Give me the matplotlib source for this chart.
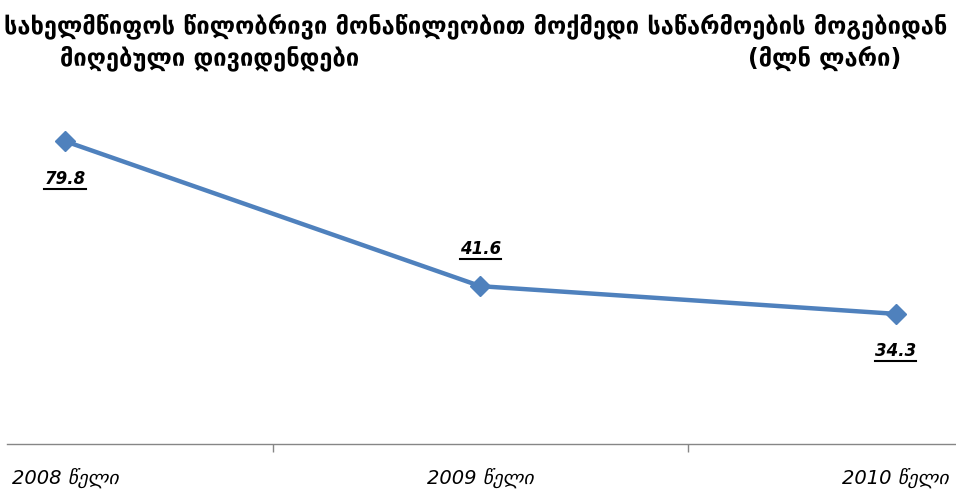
import matplotlib
matplotlib.use("Agg")
import matplotlib.pyplot as plt
from matplotlib.lines import Line2D

# დივიდენდები წლების მიხედვით (მლნ ლარი)
years = ["2008 წელი", "2009 წელი", "2010 წელი"]
dividends = [79.8, 41.6, 34.3]
# მნიშვნელობის წარწერა წერტილის ქვემოთ (-1) თუ ზემოთ (+1)
label_side = [-1, 1, -1]

title_line1 = "სახელმწიფოს წილობრივი მონაწილეობით მოქმედი საწარმოების მოგებიდან"
title_line2 = "მიღებული დივიდენდები"
units = "(მლნ ლარი)"

blue = "#4F81BD"

fig = plt.figure(figsize=(9.56, 4.96), dpi=100)
ax = fig.add_axes([0.0073, 0.1048, 0.9927, 0.765])

x = list(range(len(years)))
ax.plot(x, dividends, color=blue, lw=3.2, marker="D", markersize=10.5,
        markerfacecolor=blue, markeredgecolor=blue, solid_capstyle="round")

ax.set_xlim(-0.14, 2.145)
ax.set_ylim(0, 100)

for s in ["top", "right", "left"]:
    ax.spines[s].set_visible(False)
ax.spines["bottom"].set_color("#868686")
ax.spines["bottom"].set_linewidth(1)
ax.set_yticks([])

# ხაზები კატეგორიებს შორის
ax.set_xticks([0.5, 1.5])
ax.set_xticklabels([])
ax.tick_params(axis="x", which="major", length=6, color="#868686", width=1)
ax.set_xticks(x, minor=True)
ax.set_xticklabels(years, minor=True, fontsize=14, style="italic")
ax.tick_params(axis="x", which="minor", length=0, pad=17)

# მნიშვნელობის წარწერები
labels = []
for xi, v, side in zip(x, dividends, label_side):
    t = ax.annotate(f"{v:.1f}", (xi, v), xytext=(0, 27 * side), textcoords="offset points",
                    ha="center", va="center", fontsize=12, fontweight="bold", style="italic")
    labels.append(t)

fig.text(0.498, 0.948, title_line1, ha="center", va="center", fontsize=17, fontweight="bold")
fig.text(0.063, 0.883, title_line2, ha="left", va="center", fontsize=17, fontweight="bold")
fig.text(0.782, 0.883, units, ha="left", va="center", fontsize=17, fontweight="bold")

# ხაზგასმა წარწერების ქვეშ
fig.canvas.draw()
inv = fig.transFigure.inverted()
for t in labels:
    bb = t.get_window_extent()
    (x0, y0), (x1, y1) = inv.transform([(bb.x0, bb.y0 - 1), (bb.x1, bb.y0 - 1)])
    fig.add_artist(Line2D([x0, x1], [y0, y1], color="black", lw=1.5, transform=fig.transFigure))

fig.savefig("out.png", dpi=100, facecolor="white")
